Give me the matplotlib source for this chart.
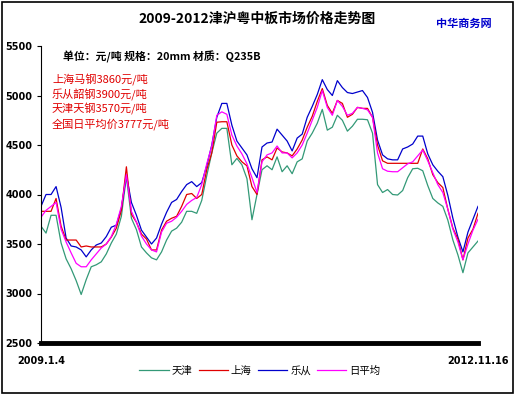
import matplotlib
matplotlib.use("Agg")
import matplotlib.pyplot as plt
from matplotlib.patches import Rectangle

plt.rcParams['font.family'] = ['Noto Sans CJK SC', 'DejaVu Sans']

# ---------------- data ----------------
start_label = "2009.1.4"
end_label = "2012.11.16"

tianjin = [3680, 3610, 3790, 3790, 3510, 3350, 3250, 3130, 2990, 3140,
           3270, 3290, 3320, 3400, 3510, 3600, 3780, 4180, 3760, 3645,
           3470, 3410, 3360, 3340, 3420, 3540, 3630, 3660, 3720, 3830,
           3830, 3810, 3940, 4190, 4420, 4620, 4668, 4668, 4300, 4365,
           4300, 4160, 3745, 4000, 4250, 4290, 4250, 4380, 4230, 4290,
           4210, 4330, 4360, 4540, 4620, 4720, 4860, 4650, 4680, 4800,
           4750, 4640, 4690, 4760, 4760, 4755, 4620, 4100, 4020, 4050,
           4000, 3995, 4040, 4170, 4260, 4265, 4240, 4090, 3960, 3915,
           3880, 3740, 3540, 3390, 3210, 3410, 3470, 3530]

shanghai = [3830, 3830, 3830, 3960, 3680, 3540, 3540, 3540, 3470, 3480,
            3470, 3470, 3470, 3500, 3570, 3660, 3840, 4280, 3800, 3720,
            3600, 3550, 3440, 3440, 3640, 3730, 3760, 3780, 3880, 4000,
            4010, 3960, 4000, 4250, 4420, 4730, 4735, 4735, 4500, 4390,
            4330, 4290, 4080, 4000, 4350, 4380, 4350, 4470, 4430, 4420,
            4390, 4460, 4550, 4680, 4790, 4940, 5070, 4900, 4820, 4950,
            4920, 4780, 4810, 4880, 4870, 4870, 4780, 4500, 4340, 4315,
            4315, 4315, 4315, 4315, 4315, 4315, 4460, 4360, 4200, 4120,
            4070, 3850, 3660, 3550, 3340, 3560, 3650, 3810]

lecong = [3880, 4000, 4000, 4080, 3870, 3560, 3480, 3470, 3440, 3370,
          3440, 3490, 3510, 3575, 3670, 3690, 3860, 4200, 3920, 3790,
          3640, 3570, 3500, 3560, 3700, 3820, 3920, 3950, 4030, 4100,
          4130, 4080, 4120, 4290, 4500, 4780, 4920, 4920, 4700, 4540,
          4470, 4400, 4260, 4170, 4480, 4520, 4530, 4660, 4600, 4540,
          4440, 4570, 4610, 4780, 4890, 5010, 5160, 5060, 5000, 5150,
          5080, 5030, 5020, 5035, 5050, 4980, 4830, 4550, 4400, 4360,
          4350, 4350, 4460, 4480, 4510, 4590, 4590, 4410, 4300, 4235,
          4180, 3990, 3760, 3570, 3420, 3620, 3750, 3880]

daily_avg = [3770, 3840, 3880, 3920, 3650, 3520, 3410, 3305, 3270, 3270,
             3340, 3400, 3460, 3500, 3575, 3700, 3880, 4200, 3830, 3720,
             3580, 3500, 3440, 3420, 3620, 3710, 3730, 3770, 3830, 3900,
             3940, 3970, 4100, 4310, 4490, 4800, 4835, 4810, 4600, 4490,
             4410, 4310, 4170, 4020, 4330, 4400, 4420, 4490, 4420, 4420,
             4370, 4420, 4500, 4620, 4750, 4880, 5050, 4880, 4800, 4950,
             4890, 4800, 4820, 4880, 4870, 4855, 4780, 4420, 4260, 4235,
             4230, 4230, 4270, 4310, 4330, 4390, 4450, 4340, 4220, 4100,
             4020, 3850, 3650, 3520, 3340, 3500, 3640, 3750]

series_names = ["天津", "上海", "乐从", "日平均"]
series_colors = ["#339977", "#E00000", "#0000CC", "#FF00FF"]
y_ticks = [2500, 3000, 3500, 4000, 4500, 5000, 5500]

title = "2009-2012津沪粤中板市场价格走势图"
source = "中华商务网"
subtitle = "单位：元/吨 规格：20mm 材质：Q235B"
notes = ["上海马钢3860元/吨", "乐从韶钢3900元/吨", "天津天钢3570元/吨", "全国日平均价3777元/吨"]

# ---------------- figure ----------------
W, H = 516, 397
fig = plt.figure(figsize=(W / 100, H / 100), dpi=100)
fig.patch.set_facecolor("white")
fig.patches.append(Rectangle((2 / W, 4 / H), 511 / W, 391 / H, transform=fig.transFigure,
                             fill=False, edgecolor="black", linewidth=1.2))

ax = fig.add_axes([41 / W, 1 - 343 / H, (478 - 41) / W, (343 - 46) / H])
n = len(lecong)
xs = list(range(n))

lines = {}
data = [tianjin, shanghai, lecong, daily_avg]
for idx in [0, 2, 1, 3]:
    ln, = ax.plot(xs, data[idx], color=series_colors[idx], linewidth=0.9,
                  label=series_names[idx])
    lines[idx] = ln

ax.set_xlim(0, n - 1)
ax.set_ylim(y_ticks[0], y_ticks[-1])
ax.set_yticks(y_ticks)
ax.set_yticklabels([str(v) for v in y_ticks], fontsize=7, fontweight="bold",
                   family="DejaVu Sans")
ax.tick_params(axis="y", length=3, width=0.8, pad=3)
ax.set_xticks([0, n - 1])
ax.set_xticklabels([start_label, end_label], fontsize=7, fontweight="bold",
                   family="DejaVu Sans")
ax.tick_params(axis="x", length=0, pad=9)

for s in ["top", "right"]:
    ax.spines[s].set_visible(False)
ax.spines["left"].set_linewidth(0.8)
ax.spines["bottom"].set_linewidth(3.5)

fig.text(257 / W, 1 - 19 / H, title, ha="center", va="center",
         fontsize=10, fontweight="bold")
fig.text(464 / W, 1 - 23 / H, source, ha="center", va="center",
         fontsize=8, fontweight="bold", color="#0000CC")
fig.text(63 / W, 1 - 57 / H, subtitle, ha="left", va="center",
         fontsize=7.8, fontweight="bold")
for i, t in enumerate(notes):
    fig.text(52 / W, 1 - (80 + i * 14.7) / H, t, ha="left", va="center",
             fontsize=8, color="#E00000")

handles = [lines[i] for i in range(4)]
fig.legend(handles, series_names, loc="center", bbox_to_anchor=(260 / W, 1 - 371 / H),
           ncol=4, frameon=False, fontsize=7.5, handlelength=2.8,
           handletextpad=0.3, columnspacing=0.6)

fig.savefig("out.png", dpi=100, facecolor="white")
